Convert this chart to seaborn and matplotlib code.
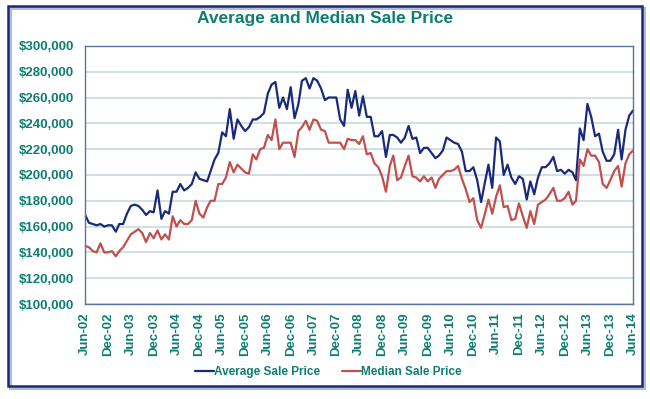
import matplotlib
matplotlib.use("Agg")
import matplotlib.pyplot as plt
import matplotlib.dates as mdates
from matplotlib.patches import Rectangle
from matplotlib.ticker import FuncFormatter, MultipleLocator
import numpy as np
import pandas as pd
import seaborn as sns

# monthly values in $1000, Jun-02 .. Jun-14
average_price = [
    169, 163, 162, 161, 162, 160, 161, 161, 156, 162, 162, 170,
    176, 177, 176, 173, 169, 172, 171, 188, 166, 172, 170, 187,
    187, 193, 188, 190, 193, 202, 197, 196, 195, 203, 212, 217,
    233, 230, 251, 228, 243, 238, 234, 237, 243, 243, 245, 248,
    263, 270, 272, 252, 260, 251, 268, 244, 255, 273, 275, 267,
    275, 273, 267, 258, 260, 260, 260, 243, 238, 266, 252, 265,
    246, 261, 245, 245, 230, 230, 234, 214, 231, 231, 229, 225,
    229, 238, 228, 229, 217, 221, 221, 217, 213, 215, 219, 229,
    227, 225, 224, 218, 203, 203, 206, 196, 179, 193, 208, 190,
    229, 226, 200, 208, 198, 193, 199, 197, 181, 195, 185, 198,
    206, 206, 209, 214, 203, 204, 201, 204, 202, 196, 236, 227,
    255, 245, 230, 232, 218, 211, 211, 216, 235, 212, 235, 246,
    250,
]
median_price = [
    145, 144, 141, 140, 147, 140, 140, 141, 137, 141, 144, 149,
    154, 156, 158, 155, 148, 155, 151, 157, 150, 154, 150, 168,
    160, 165, 162, 162, 165, 180, 170, 167, 175, 180, 180, 193,
    193, 198, 210, 202, 208, 205, 202, 201, 216, 212, 220, 221,
    231, 227, 243, 220, 225, 225, 225, 214, 234, 237, 242, 235,
    243, 242, 235, 234, 225, 225, 225, 225, 220, 228, 227, 227,
    224, 230, 216, 217, 209, 206, 199, 187, 207, 215, 196, 198,
    207, 215, 199, 198, 195, 199, 195, 198, 190, 197, 200, 203,
    203, 204, 207, 197, 189, 179, 182, 165, 159, 169, 181, 170,
    183, 192, 175, 176, 165, 166, 178, 168, 159, 172, 162, 177,
    179, 181, 185, 190, 180, 180, 182, 187, 177, 180, 212, 207,
    220, 215, 215, 210, 193, 190, 196, 203, 207, 191, 209, 216,
    219,
]
months = pd.date_range("2002-06-01", periods=len(average_price), freq="MS")
tick_months = pd.date_range("2002-06-01", "2014-06-01", freq="6MS")

df = pd.DataFrame({
    "month": np.concatenate([months, months]),
    "price": np.array(average_price + median_price) * 1000,
    "series": ["Average Sale Price"] * len(months) + ["Median Sale Price"] * len(months),
})

sns.set_theme(style="white")
plt.rcParams["font.family"] = ["Liberation Sans", "DejaVu Sans"]

teal = "#0f7d72"
navy = "#1a2a7a"
red = "#c0504d"

fig = plt.figure(figsize=(6.5, 3.99), dpi=100)
ax = fig.add_axes([0.131, 0.238, 0.843, 0.647])

sns.lineplot(
    data=df, x="month", y="price", hue="series",
    palette={"Average Sale Price": navy, "Median Sale Price": red},
    linewidth=1.6, ax=ax,
)

ax.set_xlim(months[0], months[-1])
ax.set_ylim(100000, 300000)
ax.yaxis.set_major_locator(MultipleLocator(20000))
ax.yaxis.set_major_formatter(FuncFormatter(lambda v, _: f"${v:,.0f}"))
ax.set_xticks(tick_months)
ax.xaxis.set_major_formatter(mdates.DateFormatter("%b-%y"))
ax.grid(axis="y", color="#cddde0", linewidth=1.3)
ax.set_axisbelow(True)
ax.set_xlabel("")
ax.set_ylabel("")
for lab in ax.get_xticklabels():
    lab.set_rotation(90)
ax.tick_params(axis="both", labelsize=9.5, labelcolor=teal, length=0)
ax.tick_params(axis="y", pad=8)
ax.tick_params(axis="x", pad=6)
for lab in ax.get_xticklabels() + ax.get_yticklabels():
    lab.set_fontweight("bold")
for spine in ax.spines.values():
    spine.set_color("#5a72a0")
    spine.set_linewidth(1.0)

leg = ax.legend(
    loc="center", bbox_to_anchor=(0.505, 0.068), bbox_transform=fig.transFigure,
    ncol=2, frameon=False, fontsize=8.5, handlelength=1.6, handletextpad=0.0,
    columnspacing=1.8,
)
for t in leg.get_texts():
    t.set_color(teal)
    t.set_fontweight("bold")

fig.text(0.5, 0.953, "Average and Median Sale Price", ha="center", va="center",
         fontsize=12.5, fontweight="bold", color=teal)

# frame with a soft shadow, like the original
fig.patches.append(Rectangle((0.016, 0.027), 0.975, 0.953, transform=fig.transFigure,
                             fill=False, edgecolor="#b5bccb", linewidth=2.2))
fig.patches.append(Rectangle((0.0123, 0.0326), 0.9757, 0.952, transform=fig.transFigure,
                             fill=False, edgecolor=navy, linewidth=1.8))

fig.savefig("out.png", dpi=100)
